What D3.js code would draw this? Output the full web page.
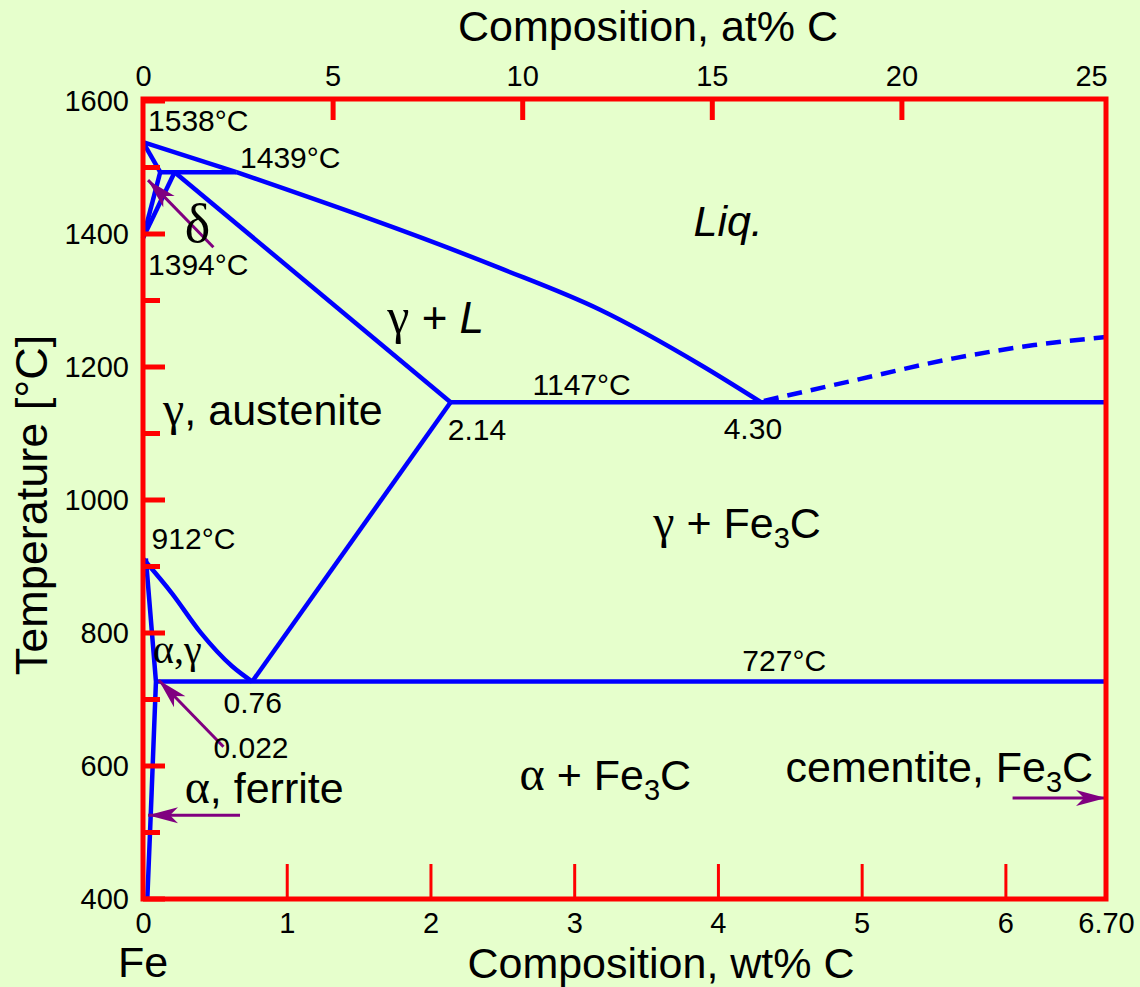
<!DOCTYPE html>
<html>
<head>
<meta charset="utf-8">
<script src="https://cdn.jsdelivr.net/npm/d3@7"></script>
<style>
  html, body { margin: 0; padding: 0; background: #e6ffcc; }
  svg { display: block; font-family: 'Liberation Sans', Arial, sans-serif; }
  .greek { font-family: 'Liberation Serif', 'DejaVu Serif', serif; }
</style>
</head>
<body>
<div id="chart"></div>
<script>
'use strict';

// axes
const tempTicks = [400, 500, 600, 700, 800, 900, 1000, 1100, 1200, 1300, 1400, 1500, 1600];
const wtTicks = [0, 1, 2, 3, 4, 5, 6, 6.7];
const atTicks = [0, 5, 10, 15, 20, 25];

// phase boundaries, [wt% C, temperature]
const deltaLiq = [[0, 1538], [0.65, 1493]];
const liquidus = [[0.65, 1493], [2.48, 1349], [3.18, 1286], [3.88, 1203], [4.30, 1147]];
const deltaSol = [[0, 1538], [0.12, 1493]];
const peritectic = [[0.12, 1493], [0.65, 1493]];
const deltaLeft = [[0.12, 1493], [0, 1394]];
const deltaRight = [[0.22, 1493], [0, 1394]];
const gammaSolidus = [[0.22, 1493], [2.14, 1147]];
const eutectic = [[2.14, 1147], [6.7, 1147]];
const cementiteLiq = [[4.32, 1149], [4.95, 1180], [5.64, 1213], [6.20, 1233], [6.7, 1245]];
const acm = [[2.14, 1147], [0.76, 727]];
const a3 = [[0, 912], [0.20, 860], [0.40, 801], [0.62, 750], [0.76, 727]];
const eutectoid = [[0.08, 727], [6.7, 727]];
const ferrite = [[0.02, 912], [0.09, 727], [0.06, 560], [0.03, 400]];

// arrows, [from, to]
const arrows = [
  [[0.49, 1380], [0.035, 1481]],
  [[0.56, 629], [0.11, 729]],
  [[0.675, 526], [0.035, 526]],
  [[6.05, 552], [6.7, 552]]
];

// small labels, [text, wt, T]
const smallLabels = [
  ['1538°C', 0.035, 1555],
  ['1439°C', 0.675, 1499],
  ['1394°C', 0.035, 1338],
  ['1147°C', 2.71, 1158],
  ['2.14', 2.12, 1090],
  ['4.30', 4.04, 1092],
  ['912°C', 0.06, 926],
  ['727°C', 4.17, 743],
  ['0.76', 0.56, 680],
  ['0.022', 0.49, 612]
];

const W = 1140, H = 987;
const RED = '#ff0000', BLUE = '#0000ff', PURPLE = '#800080';

let x, y, xAt;

window.onload = function () {
  prepChart();
  drawBoundaries();
  drawArrows();
  drawFrame();
  drawAxes();
  drawLabels();
};

function prepChart() {
  const svg = d3.select('#chart').append('svg')
    .attr('id', 'svg')
    .attr('width', W)
    .attr('height', H);

  svg.append('rect')
    .attr('width', W)
    .attr('height', H)
    .attr('fill', '#e6ffcc');

  x = d3.scaleLinear().domain([0, 6.7]).range([143, 1106]);
  y = d3.scaleLinear().domain([400, 1600]).range([899, 101]);
  xAt = d3.scaleLinear().domain([0, 25]).range([143, 1091]);

  svg.append('g').attr('id', 'lines');
  svg.append('g').attr('id', 'arrows');
  svg.append('g').attr('id', 'frame');
  svg.append('g').attr('id', 'axes');
  svg.append('g').attr('id', 'labels');
}

function drawBoundaries() {
  const line = d3.line()
    .x(function(d) { return x(d[0]); })
    .y(function(d) { return y(d[1]); });

  const smooth = d3.line()
    .curve(d3.curveMonotoneX)
    .x(function(d) { return x(d[0]); })
    .y(function(d) { return y(d[1]); });

  const solid = [deltaLiq, deltaSol, peritectic, deltaLeft, deltaRight, gammaSolidus,
                 eutectic, acm, eutectoid, ferrite];

  d3.select('#lines').selectAll('.boundary')
      .data(solid)
    .enter().append('path')
      .classed('boundary', true)
      .attr('d', line)
      .attr('fill', 'none')
      .attr('stroke', BLUE)
      .attr('stroke-width', 4.5)
      .attr('stroke-linejoin', 'round');

  d3.select('#lines').selectAll('.curved')
      .data([liquidus, a3])
    .enter().append('path')
      .classed('curved', true)
      .attr('d', smooth)
      .attr('fill', 'none')
      .attr('stroke', BLUE)
      .attr('stroke-width', 4.5);

  d3.select('#lines').append('path')
    .datum(cementiteLiq)
    .attr('d', smooth)
    .attr('fill', 'none')
    .attr('stroke', BLUE)
    .attr('stroke-width', 4.5)
    .attr('stroke-dasharray', '15,9');
}

function drawArrows() {
  const svg = d3.select('#svg');
  svg.append('defs').append('marker')
    .attr('id', 'head')
    .attr('markerUnits', 'userSpaceOnUse')
    .attr('viewBox', '-32 -10 34 20')
    .attr('refX', 0)
    .attr('refY', 0)
    .attr('markerWidth', 34)
    .attr('markerHeight', 20)
    .attr('orient', 'auto')
    .append('path')
      .attr('d', 'M0,0 L-30,-8 L-22,0 L-30,8 Z')
      .attr('fill', PURPLE);

  d3.select('#arrows').selectAll('.arrow')
      .data(arrows)
    .enter().append('line')
      .classed('arrow', true)
      .attr('x1', function(d) { return x(d[0][0]); })
      .attr('y1', function(d) { return y(d[0][1]); })
      .attr('x2', function(d) { return x(d[1][0]); })
      .attr('y2', function(d) { return y(d[1][1]); })
      .attr('stroke', PURPLE)
      .attr('stroke-width', 3)
      .attr('marker-end', 'url(#head)');
}

function drawFrame() {
  d3.select('#frame').append('rect')
    .attr('x', x(0))
    .attr('y', y(1600) - 2)
    .attr('width', x(6.7) - x(0))
    .attr('height', y(400) - y(1600) + 2)
    .attr('fill', 'none')
    .attr('stroke', RED)
    .attr('stroke-width', 5);
}

function drawAxes() {
  const g = d3.select('#axes');

  // bottom, wt%
  const bottom = g.append('g')
    .attr('transform', 'translate(0,' + y(400) + ')')
    .call(d3.axisBottom(x)
      .tickValues(wtTicks)
      .tickSizeInner(-35)
      .tickSizeOuter(0)
      .tickPadding(13)
      .tickFormat(function(d) { return d === 6.7 ? '6.70' : d; }));
  styleAxis(bottom, 3);

  // top, at%
  const top = g.append('g')
    .attr('transform', 'translate(0,' + (y(1600) - 2) + ')')
    .call(d3.axisTop(xAt)
      .tickValues(atTicks)
      .tickSizeInner(-21)
      .tickSizeOuter(0)
      .tickPadding(13));
  styleAxis(top, 5);
  top.selectAll('.tick line')
    .filter(function(d) { return d === 0 || d === 25; })
    .remove();

  // left, temperature
  g.selectAll('.ytick')
      .data(tempTicks)
    .enter().append('line')
      .classed('ytick', true)
      .attr('x1', x(0))
      .attr('x2', function(d) { return x(0) + (d % 200 === 0 ? 22 : 17); })
      .attr('y1', function(d) { return y(d); })
      .attr('y2', function(d) { return y(d); })
      .attr('stroke', RED)
      .attr('stroke-width', 5);

  g.selectAll('.ylabel')
      .data(tempTicks.filter(function(d) { return d % 200 === 0; }))
    .enter().append('text')
      .classed('ylabel', true)
      .attr('x', x(0) - 14)
      .attr('y', function(d) { return y(d); })
      .attr('dy', '0.36em')
      .attr('text-anchor', 'end')
      .attr('font-size', 29)
      .attr('fill', '#000')
      .text(function(d) { return d; });

  // titles
  g.append('text')
    .attr('x', 648)
    .attr('y', 41)
    .attr('text-anchor', 'middle')
    .attr('font-size', 43)
    .text('Composition, at% C');

  g.append('text')
    .attr('x', 661)
    .attr('y', 978)
    .attr('text-anchor', 'middle')
    .attr('font-size', 43)
    .text('Composition, wt% C');

  g.append('text')
    .attr('transform', 'translate(47,505) rotate(-90)')
    .attr('text-anchor', 'middle')
    .attr('font-size', 45)
    .text('Temperature [°C]');

  g.append('text')
    .attr('x', 143)
    .attr('y', 977)
    .attr('text-anchor', 'middle')
    .attr('font-size', 43)
    .text('Fe');
}

function styleAxis(sel, width) {
  sel.select('.domain').remove();
  sel.selectAll('.tick line')
    .attr('stroke', RED)
    .attr('stroke-width', width);
  sel.selectAll('.tick text')
    .attr('font-size', 29)
    .attr('font-family', "'Liberation Sans', Arial, sans-serif")
    .attr('fill', '#000');
}

function drawLabels() {
  const g = d3.select('#labels');

  g.selectAll('.small')
      .data(smallLabels)
    .enter().append('text')
      .classed('small', true)
      .attr('x', function(d) { return x(d[1]); })
      .attr('y', function(d) { return y(d[2]); })
      .attr('font-size', 30)
      .text(function(d) { return d[0]; });

  // delta
  g.append('text')
    .classed('greek', true)
    .attr('x', x(0.29))
    .attr('y', y(1388))
    .attr('font-size', 54)
    .text('δ');

  g.append('text')
    .attr('x', x(3.83))
    .attr('y', y(1397))
    .attr('font-size', 43)
    .attr('font-style', 'italic')
    .text('Liq.');

  let t = g.append('text')
    .attr('x', x(1.70))
    .attr('y', y(1251))
    .attr('font-size', 44);
  t.append('tspan').classed('greek', true).attr('font-size', 50).text('γ');
  t.append('tspan').text(' + ');
  t.append('tspan').attr('font-style', 'italic').text('L');

  t = g.append('text')
    .attr('x', x(0.14))
    .attr('y', y(1113))
    .attr('font-size', 43);
  t.append('tspan').classed('greek', true).attr('font-size', 48).text('γ');
  t.append('tspan').text(', austenite');

  fe3cLabel(g, 'γ + Fe', 3.55, 943);
  fe3cLabel(g, 'α + Fe', 2.62, 564);
  fe3cLabel(g, 'cementite, Fe', 4.47, 576);

  g.append('text')
    .attr('x', x(0.07))
    .attr('y', y(755))
    .attr('font-size', 40)
    .classed('greek', true)
    .text('α,γ');

  t = g.append('text')
    .attr('x', x(0.29))
    .attr('y', y(544))
    .attr('font-size', 43);
  t.append('tspan').classed('greek', true).attr('font-size', 48).text('α');
  t.append('tspan').text(', ferrite');
}

function fe3cLabel(g, prefix, wt, temp) {
  const t = g.append('text')
    .attr('x', x(wt))
    .attr('y', y(temp))
    .attr('font-size', 43);
  const greek = prefix.charAt(0);
  if (greek === 'γ' || greek === 'α') {
    t.append('tspan').classed('greek', true).attr('font-size', 48).text(greek);
    t.append('tspan').text(prefix.slice(1));
  } else {
    t.append('tspan').text(prefix);
  }
  t.append('tspan').attr('font-size', 29).attr('dy', 10).text('3');
  t.append('tspan').attr('dy', -10).text('C');
}
</script>
</body>
</html>
